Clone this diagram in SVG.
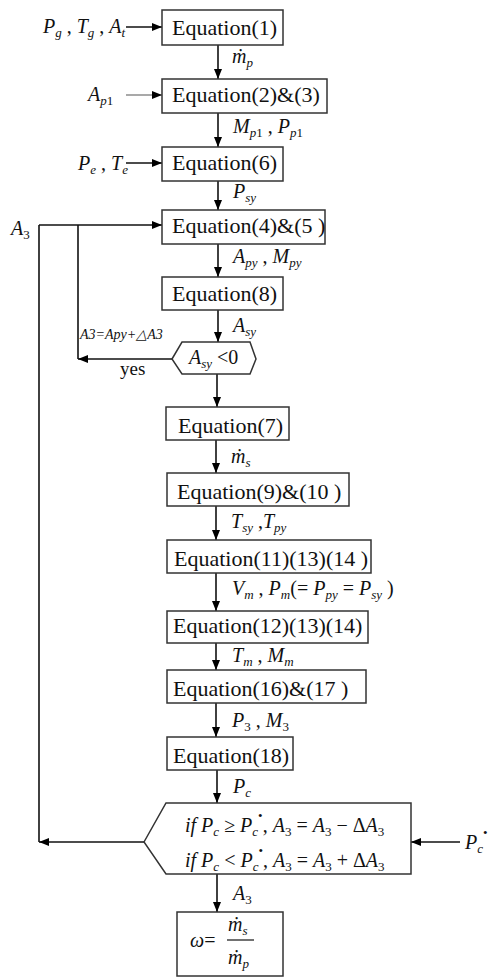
<svg xmlns="http://www.w3.org/2000/svg" width="491" height="978" viewBox="0 0 491 978" font-family="'Liberation Serif', serif">
<defs>
<marker id="ah" markerWidth="10" markerHeight="8" refX="10" refY="4" orient="auto" markerUnits="userSpaceOnUse">
<path d="M0,0 L10,4 L0,8 z" fill="#000"/>
</marker>
<style>
text{font-family:'Liberation Serif',serif}
.box{fill:#fff;stroke:#333;stroke-width:1.5}
.eq{font-size:22px;fill:#111}
.lb{font-size:20px;font-style:italic;fill:#111}
.sb{font-size:13px}
.n{font-style:normal}
.ln{fill:none;stroke:#111;stroke-width:1.6}
.ar{fill:none;stroke:#111;stroke-width:1.6;marker-end:url(#ah)}
</style>
</defs>
<rect width="491" height="978" fill="#fff"/>

<g id="connectors">
<line class="ar" x1="126" y1="27" x2="162" y2="27"/>
<line class="ar" x1="218" y1="45" x2="218" y2="79"/>
<line class="ar" x1="126" y1="95" x2="162" y2="95" style="stroke:#555;stroke-width:1.2"/>
<line class="ar" x1="218" y1="113" x2="218" y2="147"/>
<line class="ar" x1="126" y1="163" x2="162" y2="163"/>
<line class="ar" x1="218" y1="181" x2="218" y2="210"/>
<line class="ar" x1="39" y1="225" x2="162" y2="225"/>
<line class="ln" x1="78" y1="225" x2="78" y2="359"/>
<line class="ar" x1="218" y1="244" x2="218" y2="277"/>
<line class="ar" x1="218" y1="310" x2="218" y2="342"/>
<line class="ar" x1="172" y1="359" x2="78" y2="359"/>
<line class="ar" x1="217" y1="374" x2="217" y2="407"/>
<line class="ar" x1="216" y1="440" x2="216" y2="473"/>
<line class="ar" x1="216" y1="506" x2="216" y2="540"/>
<line class="ar" x1="216" y1="573" x2="216" y2="611"/>
<line class="ar" x1="216" y1="643" x2="216" y2="670"/>
<line class="ar" x1="216" y1="703" x2="216" y2="737"/>
<line class="ar" x1="217" y1="770" x2="217" y2="803"/>
<line class="ar" x1="144" y1="842" x2="39" y2="842"/>
<line class="ln" x1="39" y1="225" x2="39" y2="842"/>
<line class="ar" x1="460" y1="842" x2="411" y2="842"/>
<line class="ar" x1="217" y1="874" x2="217" y2="912"/>
</g>

<g id="n1"><rect class="box" x="162" y="10" width="121" height="35"/><text class="eq" x="172" y="35">Equation(1)</text></g>
<g id="n2"><rect class="box" x="162" y="79" width="165" height="34"/><text class="eq" x="172" y="102">Equation(2)&amp;(3)</text></g>
<g id="n3"><rect class="box" x="162" y="147" width="121" height="34"/><text class="eq" x="172" y="170">Equation(6)</text></g>
<g id="n4"><rect class="box" x="162" y="210" width="163" height="34"/><text class="eq" x="172" y="233">Equation(4)&amp;(5 )</text></g>
<g id="n5"><rect class="box" x="162" y="277" width="121" height="33"/><text class="eq" x="172" y="301">Equation(8)</text></g>
<g id="n6"><polygon class="box" points="172,359 182,342 250,342 256,359 250,374 182,374"/>
<text class="lb" x="189" y="364">A<tspan class="sb" dy="4">sy</tspan><tspan class="n" dy="-4"> &lt;0</tspan></text></g>
<g id="n7"><rect class="box" x="166" y="407" width="123" height="33"/><text class="eq" x="178" y="433">Equation(7)</text></g>
<g id="n8"><rect class="box" x="167" y="473" width="182" height="33"/><text class="eq" x="177" y="499">Equation(9)&amp;(10 )</text></g>
<g id="n9"><rect class="box" x="167" y="540" width="204" height="33"/><text class="eq" x="174" y="566">Equation(11)(13)(14 )</text></g>
<g id="n10"><rect class="box" x="167" y="611" width="201" height="32"/><text class="eq" x="173" y="633">Equation(12)(13)(14)</text></g>
<g id="n11"><rect class="box" x="167" y="670" width="199" height="33"/><text class="eq" x="173" y="696">Equation(16)&amp;(17 )</text></g>
<g id="n12"><rect class="box" x="167" y="737" width="126" height="33"/><text class="eq" x="173" y="763">Equation(18)</text></g>
<g id="n13"><polygon class="box" points="144,842 166,803 411,803 411,874 166,874"/>
<text class="lb" x="185" y="832">if  P<tspan class="sb" dy="4">c</tspan><tspan class="n" dy="-4"> ≥ </tspan>P<tspan class="sb" dy="4">c</tspan><tspan class="sb n" dy="-16">•</tspan><tspan class="n" dy="12">, </tspan>A<tspan class="sb n" dy="4">3</tspan><tspan class="n" dy="-4"> = </tspan>A<tspan class="sb n" dy="4">3</tspan><tspan class="n" dy="-4"> − Δ</tspan>A<tspan class="sb n" dy="4">3</tspan></text>
<text class="lb" x="185" y="867">if  P<tspan class="sb" dy="4">c</tspan><tspan class="n" dy="-4"> &lt; </tspan>P<tspan class="sb" dy="4">c</tspan><tspan class="sb n" dy="-16">•</tspan><tspan class="n" dy="12">, </tspan>A<tspan class="sb n" dy="4">3</tspan><tspan class="n" dy="-4"> = </tspan>A<tspan class="sb n" dy="4">3</tspan><tspan class="n" dy="-4"> + Δ</tspan>A<tspan class="sb n" dy="4">3</tspan></text></g>
<g id="n14"><rect class="box" x="177" y="912" width="106" height="64"/>
<text class="lb" x="190" y="947">ω<tspan class="n">=</tspan></text>
<line x1="227" y1="940" x2="254" y2="940" stroke="#111" stroke-width="1.2"/>
<text class="lb" x="228" y="931">ṁ<tspan class="sb" dy="4">s</tspan></text>
<text class="lb" x="228" y="964">ṁ<tspan class="sb" dy="4">p</tspan></text></g>

<g id="labels">
<text class="lb" x="43" y="33">P<tspan class="sb" dy="4">g</tspan><tspan class="n" dy="-4"> , </tspan>T<tspan class="sb" dy="4">g</tspan><tspan class="n" dy="-4"> , </tspan>A<tspan class="sb" dy="4">t</tspan></text>
<text class="lb" x="232" y="63">ṁ<tspan class="sb" dy="4">p</tspan></text>
<text class="lb" x="88" y="101">A<tspan class="sb" dy="4">p</tspan><tspan class="sb n">1</tspan></text>
<text class="lb" x="233" y="133">M<tspan class="sb" dy="4">p</tspan><tspan class="sb n">1</tspan><tspan class="n" dy="-4"> , </tspan>P<tspan class="sb" dy="4">p</tspan><tspan class="sb n">1</tspan></text>
<text class="lb" x="78" y="170">P<tspan class="sb" dy="4">e</tspan><tspan class="n" dy="-4"> , </tspan>T<tspan class="sb" dy="4">e</tspan></text>
<text class="lb" x="233" y="198">P<tspan class="sb" dy="4">sy</tspan></text>
<text class="lb" x="11" y="235">A<tspan class="sb n" dy="4">3</tspan></text>
<text class="lb" x="233" y="263">A<tspan class="sb" dy="4">py</tspan><tspan class="n" dy="-4"> , </tspan>M<tspan class="sb" dy="4">py</tspan></text>
<text class="lb" x="233" y="332">A<tspan class="sb" dy="4">sy</tspan></text>
<text class="lb" x="80" y="339" style="font-size:14px">A3=Apy+△A3</text>
<text x="120" y="375" font-size="19" fill="#111">yes</text>
<text class="lb" x="231" y="463">ṁ<tspan class="sb" dy="4">s</tspan></text>
<text class="lb" x="231" y="528">T<tspan class="sb" dy="4">sy</tspan><tspan class="n" dy="-4"> ,</tspan>T<tspan class="sb" dy="4">py</tspan></text>
<text class="lb" x="232" y="595">V<tspan class="sb" dy="4">m</tspan><tspan class="n" dy="-4"> , </tspan>P<tspan class="sb" dy="4">m</tspan><tspan class="n" dy="-4">(= </tspan>P<tspan class="sb" dy="4">py</tspan><tspan class="n" dy="-4"> = </tspan>P<tspan class="sb" dy="4">sy</tspan><tspan class="n" dy="-4"> )</tspan></text>
<text class="lb" x="232" y="662">T<tspan class="sb" dy="4">m</tspan><tspan class="n" dy="-4"> , </tspan>M<tspan class="sb" dy="4">m</tspan></text>
<text class="lb" x="232" y="727">P<tspan class="sb n" dy="4">3</tspan><tspan class="n" dy="-4"> , </tspan>M<tspan class="sb n" dy="4">3</tspan></text>
<text class="lb" x="233" y="793">P<tspan class="sb" dy="4">c</tspan></text>
<text class="lb" x="465" y="849">P<tspan class="sb" dy="4">c</tspan><tspan class="sb n" dy="-16">•</tspan></text>
<text class="lb" x="233" y="900">A<tspan class="sb n" dy="4">3</tspan></text>
</g>
</svg>
